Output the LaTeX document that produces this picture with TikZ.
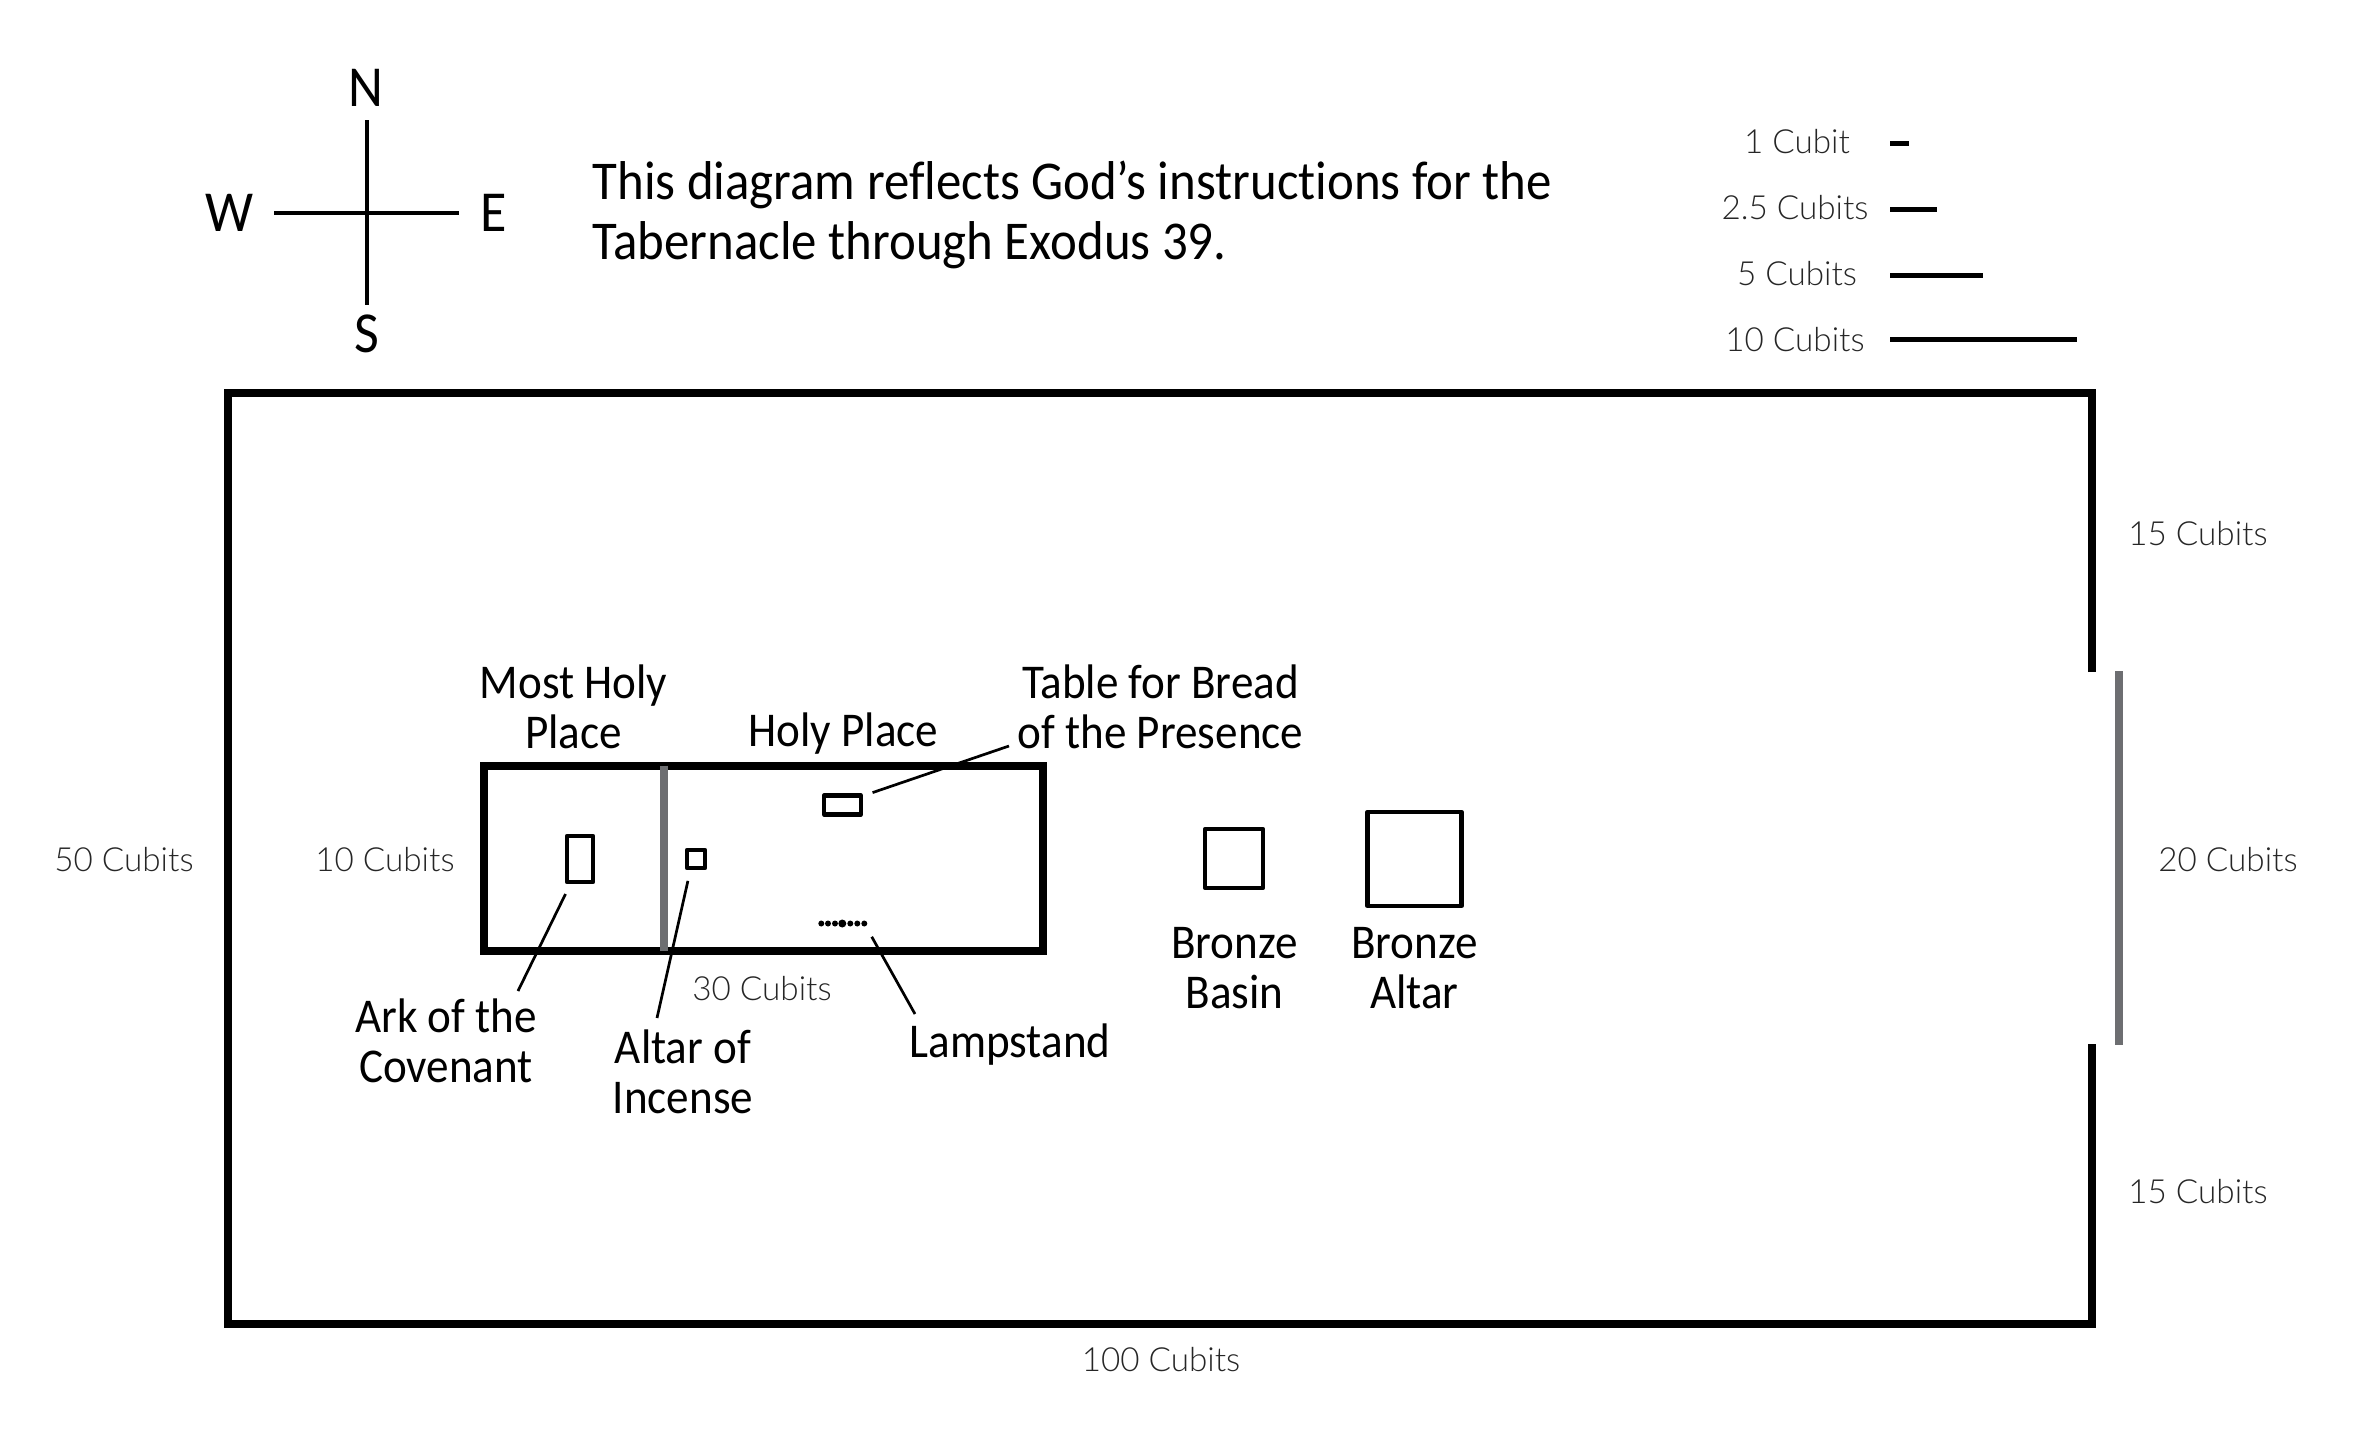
\documentclass[tikz,border=0pt]{standalone}
\usepackage{fontspec}
\setmainfont[FakeStretch=0.93,Ligatures=CommonOff]{Carlito}
\newfontfamily\cubitfont{Lato Light}
\definecolor{veil}{HTML}{6D6E71}

\begin{document}
\begin{tikzpicture}[x=0.01cm,y=-0.01cm,
    wall/.style={line width=0.8mm,line join=miter},
    curtain/.style={line width=0.8mm,draw=veil},
    furniture/.style={draw,line width=0.42mm,inner sep=0,outer sep=0.21mm,line join=round},
    leader/.style={line width=0.27mm},
    ruler/.style={line width=0.5mm},
    lamp/.style={circle,fill=black,inner sep=0,minimum size=0.6mm},
    label/.style={inner sep=0,align=center,font=\fontsize{13.8}{14.2}\selectfont},
    cubits/.style={inner sep=0,font=\cubitfont\fontsize{9.45}{11}\selectfont,text=black!85},
    compass/.style={inner sep=0,font=\fontsize{16.5}{17}\selectfont}]
    \useasboundingbox (0,0) rectangle (2353,1436);

    % compass
    \node[compass] (north) at (366,88) {N};
    \node[compass] (south) at (367,334) {S};
    \node[compass] (west) at (230,213) {W};
    \node[compass] (east) at (494,213) {E};
    \coordinate (northend) at (367,120);
    \coordinate (southend) at (367,305);
    \coordinate (westend) at (274,213);
    \coordinate (eastend) at (459,213);
    \draw[leader,line width=0.33mm] (northend) -- (southend);
    \draw[leader,line width=0.33mm] (westend) -- (eastend);

    \node[inner sep=0,anchor=west,align=left,font=\fontsize{15.55}{17}\selectfont] (note) at (592,215)
      {This diagram reflects God’s instructions for the\\Tabernacle through Exodus 39.};

    % scale
    \node[cubits] (one) at (1797,142) {1 Cubit};
    \node[cubits] (twohalf) at (1795,208) {2.5 Cubits};
    \node[cubits] (five) at (1797,274) {5 Cubits};
    \node[cubits] (ten) at (1795,340) {10 Cubits};
    \coordinate (oneend) at (1909,143);
    \coordinate (twohalfend) at (1937,209);
    \coordinate (fiveend) at (1983,275);
    \coordinate (tenend) at (2077,339);
    \draw[ruler] (1890,143) -- (oneend);
    \draw[ruler] (1890,209) -- (twohalfend);
    \draw[ruler] (1890,275) -- (fiveend);
    \draw[ruler] (1890,339) -- (tenend);

    % courtyard
    \draw[wall] (2091.5,672) -- (2091.5,392.5) -- (228,392.5) -- (228,1324) -- (2091.5,1324) -- (2091.5,1044);
    \draw[curtain] (2119,671) -- (2119,1045);
    \node[cubits] (northside) at (2198,534) {15 Cubits};
    \node[cubits] (gate) at (2228,860) {20 Cubits};
    \node[cubits] (southside) at (2198,1192) {15 Cubits};
    \node[cubits] (width) at (124,860) {50 Cubits};
    \node[cubits] (length) at (1161,1360) {100 Cubits};

    % tent
    \draw[wall] (483.5,765.5) rectangle (1043,950.5);
    \draw[curtain] (664,765.5) -- (664,950.5);
    \node[cubits] (tentwidth) at (385,860) {10 Cubits};
    \node[cubits] (tentlength) at (762,989) {30 Cubits};
    \node[label] (mostholy) at (573.5,706.5) {Most Holy\\Place};
    \node[label] (holy) at (843.5,734) {Holy Place};

    % furnishings
    \node[furniture,minimum width=0.26cm,minimum height=0.46cm] (ark) at (580,859) {};
    \node[furniture,minimum width=0.18cm,minimum height=0.18cm] (incense) at (696,859) {};
    \node[furniture,minimum width=0.37cm,minimum height=0.19cm] (table) at (842.5,805) {};
    \node[furniture,minimum width=0.585cm,minimum height=0.585cm] (basin) at (1234,858.5) {};
    \node[furniture,minimum width=0.94cm,minimum height=0.94cm] (altar) at (1414.5,859) {};
    \foreach \i/\x in {1/821.3,2/828,3/835,5/850.3,6/857.3,7/864.3}
      \node[lamp] (lamp\i) at (\x,923.5) {};
    \node[lamp,minimum size=0.8mm] (lamp4) at (842.3,923.5) {};

    \node[label] (arklabel) at (446,1041) {Ark of the\\Covenant};
    \node[label] (incenselabel) at (683,1072) {Altar of\\Incense};
    \node[label] (tablelabel) at (1160.5,706.5) {Table for Bread\\of the Presence};
    \node[label] (lamplabel) at (1010,1045) {Lampstand};
    \node[label] (basinlabel) at (1234.5,968) {Bronze\\Basin};
    \node[label] (altarlabel) at (1414.5,968) {Bronze\\Altar};

    \coordinate (arkend) at (518,991);
    \coordinate (incenseend) at (657,1018);
    \coordinate (tableend) at (1009,746);
    \coordinate (lampend) at (915,1014);
    \draw[leader,shorten <=1.1mm] (ark.-111) -- (arkend);
    \draw[leader,shorten <=1.1mm] (incense.-117) -- (incenseend);
    \draw[leader,shorten <=1mm] (table.24) -- (tableend);
    \draw[leader,shorten <=1.15mm] (lamp7) -- (lampend);
\end{tikzpicture}
\end{document}
